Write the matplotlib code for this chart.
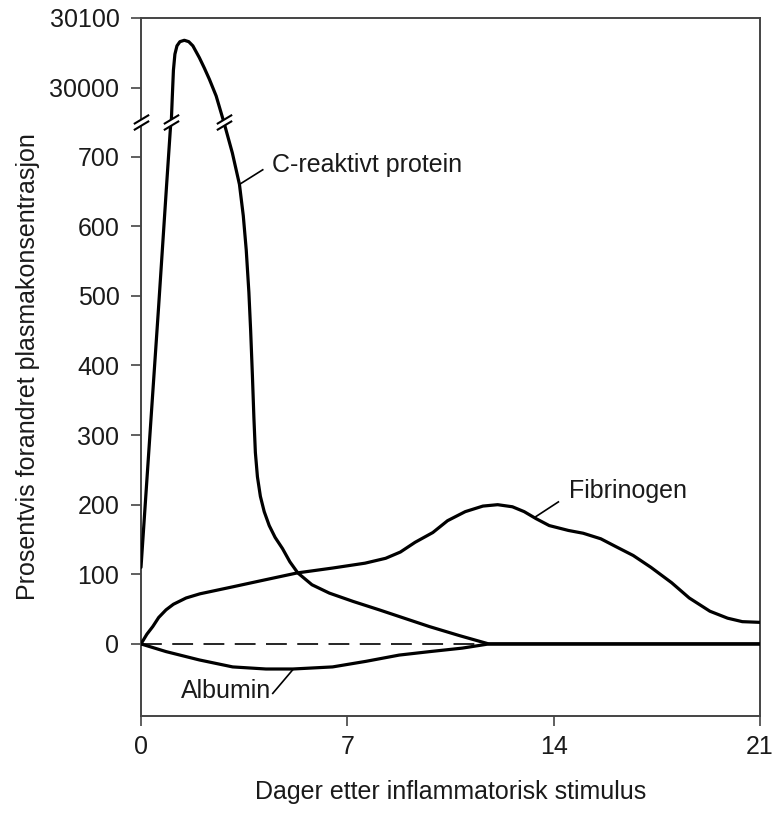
import numpy as np
import matplotlib
matplotlib.use("Agg")
import matplotlib.pyplot as plt
from matplotlib.path import Path

plt.rcParams['font.family'] = ['Liberation Sans', 'DejaVu Sans']
plt.rcParams['lines.scale_dashes'] = False

# ---------------- data ----------------
x_ticks = [0, 7, 14, 21]
y_ticks = [0, 100, 200, 300, 400, 500, 600, 700, 30000, 30100]
y_tick_labels = [str(v) for v in y_ticks]

crp_days = [0, 0.35, 0.6, 0.87, 1.0, 1.03, 1.06, 1.1, 1.15, 1.22, 1.32, 1.47, 1.62, 1.76, 1.98,
            2.15, 2.32, 2.55, 2.8, 2.84, 3.1, 3.34, 3.47, 3.57, 3.66, 3.72, 3.78, 3.83, 3.88,
            3.95, 4.05, 4.18, 4.35, 4.55, 4.8, 5.05, 5.32, 5.8, 6.39, 7.2, 8.08, 9.0, 9.78,
            10.8, 11.8, 21]
crp_vals = [110, 330, 486, 660, 742, 29953, 29985, 30025, 30048, 30060, 30066, 30068, 30066, 30060, 30043,
            30028, 30012, 29988, 29952, 745, 705, 660, 615, 566, 505, 450, 385, 325, 275,
            240, 212, 190, 170, 153, 137, 118, 102, 85, 73, 61, 49, 36, 25,
            12, 0, 0]

fib_days = [0, 0.2, 0.4, 0.6, 0.85, 1.1, 1.53, 2.0, 3.11, 4.2, 5.3, 6.5, 7.6, 8.3, 8.8, 9.3, 9.9,
            10.4, 11.0, 11.6, 12.1, 12.6, 13.0, 13.4, 13.85, 14.5, 15.0, 15.6, 16.1, 16.7,
            17.3, 18.0, 18.6, 19.3, 19.9, 20.4, 21]
fib_vals = [0, 14, 25, 38, 49, 57, 66, 72, 82, 92, 102, 109, 116, 123, 132, 146, 160,
            177, 190, 198, 200, 197, 190, 180, 170, 163, 159, 151, 140, 127,
            110, 88, 66, 47, 37, 32, 31]

alb_days = [0, 0.85, 1.98, 3.11, 4.24, 5.15, 6.5, 7.63, 8.76, 9.8, 10.9, 11.8, 21]
alb_vals = [0, -11, -23, -33, -36, -36, -33, -25, -16, -11, -6, 0, 0]

baseline_days = [0, 11.7]
baseline_vals = [0, 0]

# labels: text, text x, text y, leader start (x, y), leader end (x, y)
labels = [
    ("C-reaktivt protein", 4.46, 688, (3.34, 660), (4.13, 681)),
    ("Fibrinogen", 14.53, 219, (13.4, 183), (14.16, 204)),
    ("Albumin", 1.36, -68, (4.47, -71), (5.15, -37)),
]

# ---------------- broken y scale ----------------
BREAK_D = 749.0        # display value where the axis is broken
OFFSET = 29201.0       # upper segment shift


def fwd(v):
    v = np.asarray(v, dtype=float)
    return np.where(v > 10000, v - OFFSET, v)


def inv(d):
    d = np.asarray(d, dtype=float)
    return np.where(d > BREAK_D + 0.5, d + OFFSET, d)


fig = plt.figure(figsize=(7.77, 8.14), dpi=100)
ax = fig.add_axes([141 / 777, 1 - 716 / 814, 619 / 777, 698 / 814])
ax.set_yscale('function', functions=(fwd, inv))

line_kw = dict(color='black', lw=2.3, solid_capstyle='round', solid_joinstyle='round', zorder=3)
ax.plot(baseline_days, baseline_vals, color='black', lw=1.2, dashes=(15, 7.5), zorder=2)
ax.plot(crp_days, crp_vals, **line_kw)
ax.plot(fib_days, fib_vals, **line_kw)
ax.plot(alb_days, alb_vals, **line_kw)

ax.set_xlim(0, 21)
ax.set_ylim(-103.5, 30100)
ax.set_xticks(x_ticks)
ax.set_xticklabels([str(t) for t in x_ticks])
ax.set_yticks(y_ticks)
ax.set_yticklabels(y_tick_labels)
ax.yaxis.set_minor_locator(matplotlib.ticker.NullLocator())

spine_col = '#444444'
for s in ax.spines.values():
    s.set_linewidth(1.4)
    s.set_color(spine_col)
ax.tick_params(axis='both', direction='out', length=7.5, width=1.2, color=spine_col,
               labelsize=18, labelcolor='#1a1a1a')
ax.tick_params(axis='y', pad=8)
ax.tick_params(axis='x', pad=6)

ax.set_xlabel('Dager etter inflammatorisk stimulus', fontsize=18, labelpad=15, color='#1a1a1a')
ax.set_ylabel('Prosentvis forandret plasmakonsentrasjon', fontsize=18, labelpad=7, color='#1a1a1a')

# ---------------- break marks ----------------
fill_path = Path([(-1, -1), (1, 0.2), (1, 1), (-1, -0.2), (-1, -1)],
                 [Path.MOVETO, Path.LINETO, Path.LINETO, Path.LINETO, Path.CLOSEPOLY])
slash_path = Path([(-1, -1), (1, 0.2), (-1, -0.2), (1, 1)],
                  [Path.MOVETO, Path.LINETO, Path.MOVETO, Path.LINETO])

# break points: spine + where CRP crosses the break
bx = [0.0]
d_crp = fwd(crp_vals)
for i in range(len(crp_days) - 1):
    a, b = d_crp[i], d_crp[i + 1]
    if (a - BREAK_D) * (b - BREAK_D) < 0:
        t = (BREAK_D - a) / (b - a)
        bx.append(crp_days[i] + t * (crp_days[i + 1] - crp_days[i]))
by = [BREAK_D] * len(bx)

ms = 11
ax.plot(bx, by, linestyle='none', marker=fill_path, markersize=ms, markerfacecolor='white',
        markeredgecolor='white', markeredgewidth=0.5, clip_on=False, zorder=6)
ax.plot(bx, by, linestyle='none', marker=slash_path, markersize=ms, markerfacecolor='none',
        markeredgecolor='black', markeredgewidth=1.5, clip_on=False, zorder=7)

# ---------------- labels ----------------
for txt, tx, ty, p0, p1 in labels:
    ax.text(tx, ty, txt, fontsize=18, ha='left', va='center', color='#1a1a1a', zorder=8)
    ax.plot([p0[0], p1[0]], [p0[1], p1[1]], color='black', lw=1.2, zorder=8)

fig.savefig('out.png', dpi=100, facecolor='white')
